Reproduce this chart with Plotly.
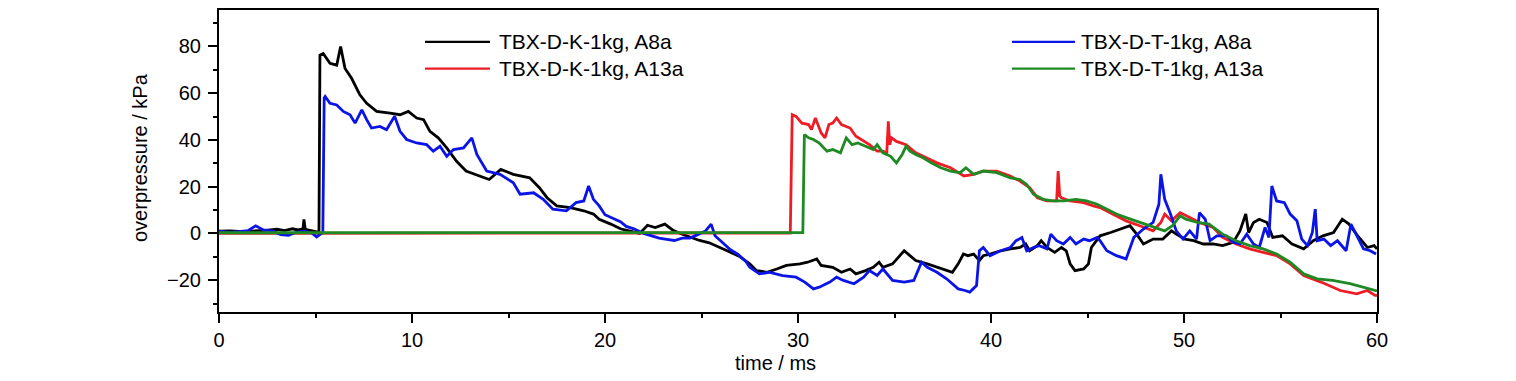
import plotly.graph_objects as go

# ---------------- data ----------------
series_names = ["TBX-D-K-1kg, A8a", "TBX-D-K-1kg, A13a", "TBX-D-T-1kg, A8a", "TBX-D-T-1kg, A13a"]
series_colors = ["#000000", "#ee1c24", "#0a14e6", "#1f8a24"]

t_k_a8a = [0, 0.6, 1.2, 1.8, 2.4, 3.0, 3.4, 3.8, 4.1, 4.35, 4.4, 4.47, 4.8, 5.1, 5.18, 5.23, 5.4, 5.75, 6.1, 6.3,
           6.53, 6.87, 7.3, 7.65, 8.17, 8.86, 9.38, 9.81, 10.24, 10.6, 10.93, 11.36, 11.8, 12.3, 12.8, 13.5, 14.0,
           14.6, 15.25, 16.1, 16.6, 17.0, 17.5, 18.2, 18.9, 19.4, 19.7, 20.3, 20.8, 21.3, 21.8, 22.2, 22.6, 23.1,
           23.5, 23.9, 24.4, 24.9, 25.4, 26.0, 26.5, 27.0, 27.5, 27.86, 28.4, 28.9, 29.4, 30.1, 30.5, 30.97, 31.2,
           31.8, 32.25, 32.7, 33.0, 33.5, 33.9, 34.2, 34.4, 34.9, 35.2, 35.5, 35.8, 36.1, 36.7, 37.2, 37.7, 38.0,
           38.3, 38.57, 38.8, 39.1, 39.4, 39.6, 39.95, 40.5, 41.0, 41.5, 41.8, 42.0, 42.4, 42.6, 42.9, 43.3, 43.65,
           43.9, 44.1, 44.35, 44.8, 45.05, 45.2, 45.65, 46.2, 46.7, 47.2, 47.55, 47.9, 48.4, 48.9, 49.35, 49.6,
           50.05, 50.5, 51.0, 51.5, 52.0, 52.55, 52.9, 53.2, 53.35, 53.6, 53.9, 54.3, 54.6, 55.1, 55.6, 56.2, 56.7,
           57.2, 57.75, 58.2, 58.55, 59.0, 59.5, 59.85, 60.0]
p_k_a8a = [1.0, 1.1, 0.8, 1.0, 1.3, 1.8, 1.2, 2.0, 1.5, 2.0, 6.0, 1.8, 1.2, 0.4, 0.5, 76.3, 77.0, 72.8, 72.0, 80.0,
           70.6, 66.4, 59.3, 55.7, 52.2, 51.5, 50.8, 52.2, 49.4, 48.7, 43.7, 40.9, 36.6, 31.0, 26.7, 24.6, 23.1,
           27.4, 25.3, 23.8, 19.6, 15.3, 11.8, 11.1, 9.7, 8.3, 6.1, 4.0, 2.0, 1.0, 0.0, 3.5, 2.5, 4.0,
           1.5, 0.0, -1.5, -3.0, -4.0, -6.0, -8.0, -10.0, -13.0, -15.9, -16.6, -15.2, -13.7, -13.0, -12.3, -10.9, -13.7,
           -14.5, -16.6, -15.2, -17.3, -15.9, -14.5, -12.3, -14.5, -13.0, -10.2, -7.4, -9.5, -11.6, -13.0, -14.5, -15.9, -16.6,
           -13.0, -8.8, -9.5, -8.8, -11.6, -9.5, -8.8, -7.4, -6.6, -6.0, -4.5, -7.4, -5.2, -3.1, -6.0, -8.1, -6.0,
           -7.4, -13.0, -15.9, -15.2, -13.0, -6.0, -1.0, 0.4, 1.9, 3.3, -0.3, -4.5, -2.4, -2.4, 1.1, -0.3,
           -2.4, -3.1, -4.5, -4.5, -5.2, -3.8, 1.1, 8.3, 0.4, 4.7, 6.1, 4.7, -1.7, -1.0, -4.5, -6.6, -3.1,
           -1.0, 0.4, 6.1, 4.0, -1.0, -6.0, -5.2, -6.6]

t_k_a13a = [0, 5, 10, 15, 20, 25, 29.6, 29.7, 29.9, 30.2, 30.55, 30.7, 30.9, 31.1, 31.2, 31.4, 31.6, 31.8, 32.0,
            32.25, 32.7, 33.0, 33.4, 33.7, 34.1, 34.4, 34.6, 34.68, 34.75, 34.85, 35.1, 35.6, 36.1, 36.7, 37.2,
            37.9, 38.6, 39.1, 39.6, 40.3, 41.0, 41.5, 42.0, 42.4, 42.9, 43.4, 43.48, 43.56, 43.65, 44.1, 44.8,
            45.3, 45.65, 46.3, 47.0, 47.7, 48.4, 48.8, 49.0, 49.35, 49.8, 50.3, 50.8, 51.5, 52.0, 52.7, 53.4,
            54.1, 54.8, 55.5, 56.2, 57.1, 58.1, 58.95, 59.5, 59.9, 60.0]
p_k_a13a = [0.0, 0.0, 0.2, 0.0, 0.3, 0.2, 0.2, 50.8, 50.1, 47.2, 46.6, 44.4, 49.4, 45.1, 43.0, 40.9, 46.6, 47.2, 49.4,
            46.6, 45.1, 41.6, 39.4, 38.0, 35.2, 35.2, 34.5, 48.0, 38.0, 40.9, 39.4, 38.0, 34.5, 32.3, 30.2,
            28.1, 24.6, 25.3, 26.7, 26.7, 24.6, 22.4, 19.6, 15.3, 13.9, 13.9, 26.7, 16.0, 15.3, 13.9, 13.2,
            11.8, 11.1, 8.3, 5.4, 3.3, 1.1, 4.7, 8.3, 5.4, 8.9, 6.8, 4.7, 2.6, -1.7, -4.5, -6.6,
            -8.1, -9.5, -13.0, -18.0, -20.8, -24.4, -25.8, -24.4, -26.5, -26.5]

t_t_a8a = [0, 0.5, 1.0, 1.5, 1.9, 2.3, 2.8, 3.2, 3.6, 4.0, 4.4, 4.8, 5.06, 5.3, 5.38, 5.45, 5.5, 5.75, 6.1, 6.44,
           6.79, 7.05, 7.4, 7.65, 7.9, 8.34, 8.68, 9.1, 9.38, 9.72, 10.24, 10.76, 11.1, 11.45, 11.8, 12.15, 12.67,
           13.1, 13.36, 13.87, 14.56, 15.25, 15.6, 16.3, 16.8, 17.3, 18.0, 18.5, 18.9, 19.15, 19.4, 19.7, 20.0,
           20.4, 20.8, 21.1, 21.5, 22.0, 22.4, 22.8, 23.2, 23.6, 24.0, 24.4, 24.8, 25.2, 25.5, 25.7, 26.1, 26.5,
           26.9, 27.3, 27.5, 28.0, 28.5, 29.2, 29.9, 30.35, 30.8, 31.1, 31.65, 32.0, 32.35, 32.9, 33.4, 33.7,
           34.1, 34.4, 34.9, 35.5, 36.0, 36.4, 36.7, 37.2, 37.7, 38.0, 38.3, 38.65, 38.9, 39.25, 39.4, 39.6,
           39.95, 40.5, 41.0, 41.3, 41.6, 41.85, 42.2, 42.5, 42.9, 43.1, 43.4, 43.75, 44.1, 44.4, 44.8, 45.1,
           45.5, 45.65, 46.0, 46.5, 47.0, 47.4, 47.9, 48.4, 48.7, 48.8, 49.0, 49.3, 49.6, 49.95, 50.3, 50.65,
           50.8, 51.1, 51.35, 51.7, 52.2, 52.55, 52.9, 53.25, 53.6, 53.9, 54.2, 54.4, 54.55, 54.8, 55.2, 55.5,
           55.85, 56.1, 56.4, 56.65, 56.8, 56.9, 57.25, 57.6, 57.95, 58.4, 58.65, 59.0, 59.3, 59.65, 59.95]
p_t_a8a = [1.0, 0.5, 0.8, 1.2, 3.3, 1.5, 1.0, -0.5, -0.8, 0.5, 1.0, 0.2, -1.5, 0.0, 0.5, 58.0, 58.6, 55.7, 55.0, 52.2,
           50.8, 47.2, 52.9, 48.7, 45.1, 45.8, 44.4, 50.1, 43.7, 40.2, 38.7, 38.0, 35.2, 37.3, 33.0, 35.9, 36.6,
           40.9, 33.8, 26.7, 25.3, 21.7, 16.8, 17.4, 14.6, 10.4, 9.7, 13.2, 13.9, 20.3, 14.6, 11.8, 8.0,
           6.5, 5.0, 3.0, 2.0, 0.0, -1.0, -2.0, -2.5, -3.0, -2.0, -2.0, -0.5, 1.0, 4.0, -1.0, -4.0, -7.0,
           -9.0, -12.0, -14.5, -17.3, -16.6, -18.0, -18.7, -20.8, -23.7, -23.0, -20.8, -18.7, -20.1, -21.5, -18.7, -15.9,
           -18.0, -15.2, -20.1, -20.8, -20.1, -12.3, -14.5, -16.6, -19.4, -21.5, -23.7, -24.4, -25.1, -22.3, -7.4, -6.0,
           -9.5, -7.4, -6.0, -3.1, -1.7, -7.4, -6.0, -5.2, -6.6, -0.3, -3.1, -4.5, -1.7, -4.5, -2.4, -3.1,
           -1.7, -3.1, -7.4, -9.5, -10.9, -1.7, 1.9, 4.7, 12.5, 25.3, 14.6, 8.3, 1.1, -2.4, 1.1, -2.4,
           8.9, 6.1, -3.1, -1.0, -1.0, -3.8, -4.5, -0.3, -4.5, -6.0, 2.6, -1.7, 20.3, 13.9, 13.2, 8.3,
           5.4, -2.4, -5.2, 0.4, 10.4, -3.1, -2.4, -5.2, -3.1, -7.4, 4.0, -1.7, -6.6, -7.4, -8.8]

t_t_a13a = [0, 5, 10, 15, 20, 25, 30.25, 30.33, 30.55, 30.8, 31.1, 31.5, 31.8, 32.2, 32.5, 32.8, 33.1, 33.5, 33.9,
            34.1, 34.4, 34.8, 35.1, 35.4, 35.6, 35.8, 36.1, 36.5, 36.9, 37.4, 37.9, 38.4, 38.7, 39.1, 39.6, 40.3,
            41.0, 41.5, 41.85, 42.2, 42.7, 43.2, 43.75, 44.4, 44.95, 45.5, 46.0, 46.5, 47.0, 47.7, 48.4, 49.0,
            49.4, 49.8, 50.1, 50.7, 51.3, 52.0, 52.7, 53.4, 54.1, 54.8, 55.5, 56.2, 56.9, 57.7, 58.6, 59.3, 59.9, 60.0]
p_t_a13a = [0.3, 0.3, 0.5, 0.4, 0.6, 0.4, 0.4, 42.3, 40.9, 40.2, 38.7, 35.2, 35.9, 34.5, 40.9, 38.0, 38.7, 37.3, 35.9,
            38.0, 34.5, 33.0, 30.2, 33.8, 37.3, 35.2, 33.8, 32.3, 30.2, 28.1, 26.7, 26.0, 28.1, 25.3, 26.7, 26.0,
            23.8, 23.1, 21.0, 16.8, 14.6, 13.9, 13.9, 14.6, 13.9, 12.5, 10.4, 8.3, 6.8, 4.7, 2.6, 1.1,
            3.3, 7.5, 6.1, 4.7, 4.0, -0.3, -3.1, -5.2, -6.6, -8.8, -12.3, -17.3, -19.4, -20.1, -21.5, -23.0, -24.4, -24.6]

x_ticks = [0, 10, 20, 30, 40, 50, 60]
y_ticks = [-20, 0, 20, 40, 60, 80]
x_title = "time / ms"
y_title = "overpressure / kPa"

# ---------------- layout geometry ----------------
# The page body has an 8 px margin, so the figure is placed 8 px in from the window corner.
PAGE_OFF = 8
W, H = 1500, 371
ML, MT = 219 - PAGE_OFF, 0
PW, PH = 1158, 304
MR, MB = W - ML - PW, H - MT - PH
FONT = "Arial, Liberation Sans, sans-serif"


def px(x):  # page pixel -> paper x
    return (x - PAGE_OFF - ML) / PW


def py(y):  # page pixel -> paper y
    return (MT + PH - (y - PAGE_OFF)) / PH


fig = go.Figure()
all_t = [t_k_a8a, t_k_a13a, t_t_a8a, t_t_a13a]
all_p = [p_k_a8a, p_k_a13a, p_t_a8a, p_t_a13a]
for name, col, t, p in zip(series_names, series_colors, all_t, all_p):
    fig.add_trace(go.Scatter(x=t, y=p, mode="lines", name=name, showlegend=False,
                             line=dict(color=col, width=2.8)))

# custom two-column legend
legend_pos = [(425, 490, 497, 40), (425, 490, 497, 67), (1012, 1075, 1079, 40), (1012, 1075, 1079, 67)]
shapes, annotations = [], []
for name, col, (x0, x1, xt, yy) in zip(series_names, series_colors, legend_pos):
    shapes.append(dict(type="line", xref="paper", yref="paper", x0=px(x0), x1=px(x1), y0=py(yy), y1=py(yy),
                       line=dict(color=col, width=2.2)))
    annotations.append(dict(text=name, xref="paper", yref="paper", x=px(xt), y=py(yy), xanchor="left",
                            yanchor="middle", showarrow=False, font=dict(family=FONT, size=21, color="black")))

annotations.append(dict(text=x_title, xref="paper", yref="paper", x=px(775), y=py(363), xanchor="center",
                        yanchor="middle", showarrow=False, font=dict(family=FONT, size=20, color="black")))
annotations.append(dict(text=y_title, xref="paper", yref="paper", x=px(140), y=py(157), xanchor="center",
                        yanchor="middle", showarrow=False, textangle=-90,
                        font=dict(family=FONT, size=20, color="black")))

axis_common = dict(showline=True, linecolor="black", linewidth=2, mirror=True, showgrid=False, zeroline=False,
                   ticks="outside", ticklen=9, tickwidth=1.8, tickcolor="black",
                   tickfont=dict(family=FONT, size=20, color="black"))

fig.update_layout(
    width=W, height=H, margin=dict(l=ML, r=MR, t=MT, b=MB),
    paper_bgcolor="white", plot_bgcolor="white",
    shapes=shapes, annotations=annotations,
    xaxis=dict(range=[0, 60], tickvals=x_ticks,
               minor=dict(dtick=5, tick0=0, ticks="outside", ticklen=4, tickwidth=1.8, tickcolor="black"),
               **axis_common),
    yaxis=dict(range=[-33.6, 95.6], tickvals=y_ticks, ticklabelstandoff=3,
               minor=dict(dtick=10, tick0=0, ticks="outside", ticklen=4, tickwidth=1.8, tickcolor="black"),
               **axis_common),
)

fig.write_html("out.html")
